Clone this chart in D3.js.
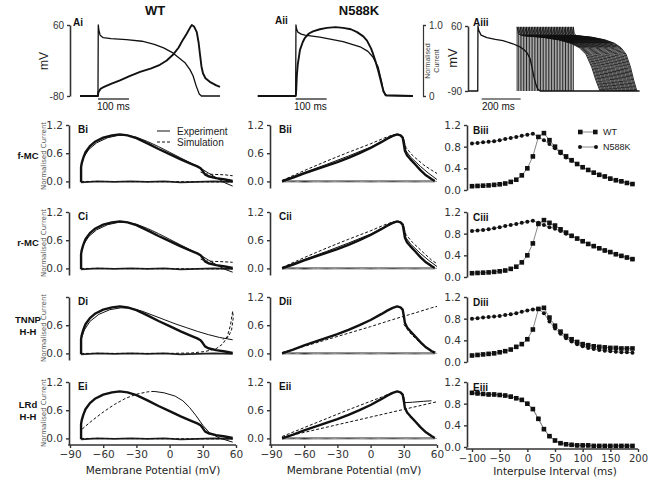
<!DOCTYPE html>
<html><head><meta charset="utf-8">
<script src="https://cdn.jsdelivr.net/npm/d3@7"></script>
<style>
body{margin:0;background:#fff}
svg text{font-family:"DejaVu Sans",sans-serif}
.ar{font-family:"Liberation Sans",Arial,sans-serif !important}
</style>
</head><body>
<svg id="c" width="652" height="480"></svg>
<script>
// ---------------- DATA ----------------
// Top row: Ai (WT) action potential (ms, mV) and normalised current (ms, I)
const aiAP = [[0,-80],[58,-80],[59,60],[61,50],[65,40],[75,35],[100,33],[150,31],[200,28],[240,22],[270,15],[300,5],[320,-5],[340,-15],[355,-28],[365,-40],[375,-60],[385,-76],[392,-80],[452,-80]];
const aiCur = [[0,0],[58,0],[59,0.05],[66,0.1],[74,0.12],[100,0.17],[129,0.22],[160,0.28],[194,0.34],[230,0.39],[258,0.44],[280,0.5],[300,0.58],[318,0.68],[332,0.79],[345,0.88],[355,0.96],[361,1.0],[368,0.98],[377,0.9],[383,0.75],[387,0.6],[392,0.42],[397,0.32],[405,0.25],[419,0.2],[440,0.15],[452,0.13]];
// Aii (N588K)
const aiiAP = [[-65,-80],[57,-80],[58,60],[60,52],[64,46],[75,42],[87,40],[135,36],[210,27],[265,17],[290,8],[306,-3],[323,-23],[335,-54],[340,-72],[350,-79],[435,-80]];
const aiiCur = [[-65,0],[57,0],[58,0.02],[59,0.1],[61,0.3],[64,0.45],[71,0.65],[80,0.76],[87,0.82],[100,0.88],[113,0.91],[135,0.94],[158,0.96],[185,0.97],[210,0.96],[235,0.94],[255,0.9],[275,0.84],[287,0.78],[300,0.67],[306,0.6],[315,0.48],[323,0.36],[330,0.24],[335,0.15],[340,0.07],[347,0.01],[435,0]];
// Aiii: conditioning AP, S2 stimulus times, S2 repolarisation times, S2 AP shape (fraction of APD, mV)
const aiiiAP1 = [[0,-90],[50,-90],[51,60],[55,50],[67,39],[97,33],[140,29],[179,26],[230,19],[267,12],[290,4],[303,-2],[318,-15],[328,-35],[337,-55],[344,-68],[352,-80],[359,-86],[370,-90],[880,-90]];
const s2Times = [252,260,268,276,284,292,300,308,316,324,332,340,348,356,364,372,380,388,396,404,412,420,428,436,444,452,460,468,476,484,492,500,508,516,524,532,540];
const s2Ends  = [677,682,688,693,698,703,709,714,719,724,730,735,740,745,751,756,761,766,772,777,782,787,793,798,803,808,814,819,824,829,835,840,845,850,856,861,866];
const s2Shape = [[0,58],[0.015,42],[0.05,38],[0.3,34],[0.5,28],[0.65,20],[0.75,10],[0.83,-5],[0.9,-35],[0.95,-65],[1.0,-90]];

// I-V loops (mV, normalised current)
const expWT = [[-80,-0.02],[-80,0.1],[-80,0.3],[-79.5,0.38],[-78,0.5],[-76,0.62],[-72,0.75],[-67,0.85],[-60,0.93],[-52,0.98],[-45,1.0],[-38,0.98],[-30,0.92],[-20,0.81],[-10,0.69],[0,0.58],[10,0.47],[20,0.37],[25,0.32],[28,0.28],[30,0.22],[32,0.15],[35,0.11],[42,0.07],[50,0.04],[57,0.01]];
const expWTbase = [[-80,-0.02],[-65,0.0],[-50,-0.01],[-35,0.0],[-20,-0.01],[-5,0.0],[10,-0.02],[25,-0.01],[40,0.0],[57,-0.01]];
const zeroLine = [[-80,0],[57,-0.01]];
const fmcSolid = [[-80,0],[-80,0.3],[-78,0.5],[-73,0.68],[-66,0.82],[-56,0.93],[-46,0.98],[-38,0.98],[-30,0.94],[-20,0.85],[-10,0.74],[0,0.62],[10,0.5],[20,0.38],[28,0.28],[35,0.18],[42,0.08],[50,-0.03],[57,-0.1]];
const fmcDash = [[28,0.2],[32,0.16],[40,0.15],[50,0.14],[57,0.12]];
const rmcSolid = [[-80,0],[-80,0.3],[-78,0.5],[-73,0.68],[-66,0.82],[-56,0.93],[-46,0.98],[-38,0.98],[-30,0.94],[-20,0.85],[-10,0.74],[0,0.62],[10,0.5],[20,0.38],[28,0.28],[35,0.18],[42,0.08],[50,-0.02],[57,-0.08]];
const rmcDash = [[28,0.2],[32,0.16],[40,0.15],[50,0.14],[57,0.13]];
const tnnpSolid = [[-80,0],[-80,0.3],[-77,0.5],[-72,0.68],[-64,0.83],[-54,0.93],[-44,0.97],[-35,0.96],[-25,0.9],[-15,0.81],[-5,0.72],[5,0.63],[15,0.55],[25,0.47],[35,0.4],[45,0.34],[57,0.29]];
const tnnpDash = [[-80,0],[-40,0.0],[0,0.0],[20,0.01],[32,0.04],[42,0.1],[48,0.2],[52,0.35],[55,0.6],[57,0.9],[57.5,0.75],[56,0.5],[53,0.35],[48,0.3]];
const lrdDash = [[-79,0.2],[-70,0.38],[-60,0.56],[-50,0.72],[-40,0.85],[-30,0.94],[-20,0.99],[-14,1.0]];
const lrdSolid = [[-14,1.0],[-5,0.97],[5,0.9],[12,0.8],[18,0.66],[24,0.48],[30,0.28],[36,0.12],[45,0.01],[57,-0.08]];

const expN = [[-80,0],[-70,0.08],[-60,0.17],[-50,0.25],[-40,0.33],[-30,0.41],[-20,0.5],[-10,0.6],[0,0.71],[10,0.84],[15,0.91],[20,0.97],[24,1.0],[27,0.98],[29,0.93],[30,0.8],[31,0.65],[33,0.55],[36,0.47],[40,0.37],[45,0.24],[50,0.13],[55,0.05],[58,0.01]];
const expNbase = [[-80,0],[-40,0.0],[0,0.0],[30,0.0],[58,0.0]];
const grayN = [[-80,-0.01],[-70,0.01],[-60,-0.02],[-50,0.0],[-40,-0.01],[-30,0.0],[-20,0.01],[-10,0.0],[0,-0.01],[10,0.0],[20,0.01],[30,0.0],[40,-0.01],[50,0.0],[60,0.0]];
const fmcNSolid = [[-80,0.02],[-60,0.19],[-40,0.36],[-20,0.54],[0,0.73],[12,0.87],[20,0.96],[25,1.0],[28,0.98],[30,0.9],[32,0.65],[36,0.52],[45,0.32],[52,0.18],[60,0.04]];
const fmcNDash = [[-80,0.02],[-60,0.23],[-40,0.43],[-20,0.62],[0,0.8],[12,0.92],[20,0.99],[25,1.0],[29,0.95],[32,0.72],[38,0.55],[48,0.35],[55,0.24],[60,0.17]];
const rmcNSolid = [[-80,0.02],[-60,0.19],[-40,0.36],[-20,0.54],[0,0.73],[12,0.87],[20,0.96],[25,1.0],[28,0.98],[30,0.9],[32,0.65],[36,0.52],[45,0.32],[52,0.18],[60,0.04]];
const rmcNDash = [[-80,0.02],[-60,0.23],[-40,0.43],[-20,0.62],[0,0.8],[12,0.92],[20,0.99],[25,1.0],[29,0.95],[32,0.72],[38,0.55],[48,0.33],[55,0.18],[60,0.1]];
const tnnpNDash = [[-80,0.02],[-60,0.15],[-40,0.29],[-20,0.43],[0,0.57],[20,0.72],[40,0.86],[55,0.97],[60,1.0]];
const tnnpNDash2 = [[30,0.62],[35,0.45],[40,0.33],[45,0.22],[50,0.13],[55,0.06],[60,0.02]];
const lrdNDashUp = [[-80,0.04],[-60,0.23],[-40,0.42],[-20,0.61],[0,0.79],[10,0.88],[18,0.96],[24,1.0]];
const lrdNSolid = [[24,1.0],[28,0.97],[30,0.88],[31,0.76],[38,0.77],[48,0.79],[55,0.8]];
const lrdNDashLow = [[-80,0.02],[60,0.78]];

// Column iii: interpulse interval (ms) vs normalised peak current
const ipi = [-100,-90,-80,-70,-60,-50,-40,-30,-20,-10,0,10,20,30,40,50,60,70,80,90,100,110,120,130,140,150,160,170,180,190];
const biiiWT = [0.07,0.075,0.08,0.085,0.095,0.105,0.12,0.15,0.19,0.27,0.4,0.62,0.98,1.05,0.92,0.8,0.7,0.62,0.55,0.48,0.42,0.37,0.32,0.28,0.25,0.21,0.18,0.16,0.13,0.11];
const biiiN  = [0.86,0.87,0.88,0.89,0.9,0.92,0.94,0.96,0.98,1.0,1.02,1.04,0.98,0.92,0.85,0.77,0.68,0.6,0.54,0.48,0.42,0.37,0.32,0.28,0.25,0.21,0.18,0.16,0.13,0.11];
const ciiiWT = [0.07,0.075,0.08,0.085,0.095,0.105,0.12,0.15,0.19,0.27,0.4,0.62,0.98,1.05,1.0,0.95,0.88,0.82,0.76,0.71,0.66,0.61,0.57,0.53,0.49,0.46,0.42,0.39,0.36,0.33];
const ciiiN  = [0.85,0.86,0.87,0.88,0.9,0.92,0.94,0.96,0.98,1.0,1.02,1.04,1.0,0.96,0.92,0.89,0.85,0.8,0.76,0.71,0.66,0.61,0.57,0.53,0.49,0.46,0.42,0.39,0.36,0.33];
const diiiWT = [0.12,0.13,0.14,0.15,0.16,0.18,0.2,0.23,0.28,0.33,0.42,0.6,0.98,1.0,0.82,0.67,0.56,0.48,0.42,0.37,0.33,0.31,0.29,0.28,0.27,0.26,0.26,0.25,0.25,0.25];
const diiiN  = [0.8,0.81,0.82,0.83,0.84,0.85,0.87,0.88,0.9,0.93,0.95,0.97,0.98,0.9,0.75,0.62,0.52,0.44,0.38,0.33,0.29,0.26,0.24,0.22,0.21,0.2,0.19,0.18,0.18,0.17];
const eiiiWT = [1.0,0.99,0.98,0.97,0.97,0.96,0.95,0.93,0.9,0.87,0.8,0.7,0.52,0.33,0.2,0.12,0.07,0.05,0.04,0.03,0.03,0.03,0.02,0.02,0.02,0.02,0.02,0.02,0.02,0.02];
const eiiiN  = [1.0,0.99,0.98,0.97,0.97,0.96,0.95,0.93,0.9,0.87,0.8,0.7,0.52,0.33,0.2,0.12,0.07,0.05,0.04,0.03,0.03,0.03,0.02,0.02,0.02,0.02,0.02,0.02,0.02,0.02];

const ivTicks = [0, 0.6, 1.2];
const vTicks = [-90,-60,-30,0,30,60];
const ipiTicks = [-100,-50,0,50,100,150,200];
const iiiTicks = [0,0.4,0.8,1.2];
const rowNames = [["f-MC"],["r-MC"],["TNNP","H-H"],["LRd","H-H"]];

// ---------------- DRAW ----------------
const svg = d3.select("#c");
const INK = "#111", AX = "#333";
function line(g, data, sx, sy, o){
  o = o||{};
  g.append("path").datum(data)
   .attr("d", d3.line().x(d=>sx(d[0])).y(d=>sy(d[1])))
   .attr("fill","none").attr("stroke",o.c||INK).attr("stroke-width",o.w||1)
   .attr("stroke-dasharray",o.dash?"3,2":null)
   .attr("stroke-linejoin","round").attr("stroke-linecap","butt");
}
function styleAxis(g, fs){
  g.select(".domain").attr("stroke",AX).attr("stroke-width",1.6);
  g.selectAll(".tick line").attr("stroke",AX).attr("stroke-width",1.4);
  g.selectAll(".tick text").attr("fill","#333").style("font-size",(fs||10)+"px");
}
function txt(x,y,s,o){
  o=o||{};
  const t=svg.append("text").attr("x",x).attr("y",y).text(s)
   .attr("text-anchor",o.a||"start").attr("fill",o.c||"#111")
   .style("font-size",(o.fs||10)+"px").style("font-weight",o.b?"bold":"normal");
  if(o.ar) t.attr("class","ar");
  if(o.rot) t.attr("transform",`rotate(-90,${x},${y})`);
  return t;
}

// ---- Top row ----
txt(155,15,"WT",{a:"middle",b:true,fs:13,ar:true});
txt(359,15,"N588K",{a:"middle",b:true,fs:13,ar:true});

// Ai
{
  const x = d3.scaleLinear().domain([0,452]).range([80,220]);
  const y = d3.scaleLinear().domain([-80,60]).range([96,25]);
  const yc = d3.scaleLinear().domain([0,1]).range([96,25]);
  const g = svg.append("g");
  line(g, aiAP, x, y, {w:1.3});
  line(g, aiCur, x, yc, {w:1.9});
  const ax = svg.append("g").attr("transform","translate(70,0)")
    .call(d3.axisLeft(y).tickValues([-80,60]).tickFormat(d=>d===-80?"-80":"60").tickSize(3).tickSizeOuter(0));
  styleAxis(ax,10); ax.selectAll("text").attr("class","ar");
  txt(48,61,"mV",{a:"middle",rot:true,fs:12,ar:true,c:"#222"});
  txt(73,26,"Ai",{b:true,fs:10,ar:true});
  svg.append("line").attr("x1",x(58)).attr("x2",x(158)).attr("y1",99).attr("y2",99).attr("stroke",INK).attr("stroke-width",1.2);
  txt(97,110,"100 ms",{fs:10,ar:true});
}
// Aii
{
  const x = d3.scaleLinear().domain([-65,435]).range([257.8,412.9]);
  const y = d3.scaleLinear().domain([-80,60]).range([96,25]);
  const yc = d3.scaleLinear().domain([0,1]).range([96,25]);
  const g = svg.append("g");
  line(g, aiiAP, x, y, {w:1.3});
  line(g, aiiCur, x, yc, {w:1.9});
  txt(275,24,"Aii",{b:true,fs:10,ar:true});
  svg.append("line").attr("x1",x(57)).attr("x2",x(157)).attr("y1",99).attr("y2",99).attr("stroke",INK).attr("stroke-width",1.2);
  txt(294,110,"100 ms",{fs:10,ar:true});
  // normalised current scale bar
  const sb = svg.append("g").attr("transform","translate(423,0)")
    .call(d3.axisRight(yc).tickValues([0,1]).tickFormat(d=>d?"1.0":"0").tickSize(3).tickSizeOuter(0));
  styleAxis(sb,10); sb.select(".domain").attr("stroke-width",1.2);
  sb.selectAll("text").attr("class","ar");
  txt(430,61,"Normalised",{a:"middle",rot:true,fs:7,ar:true,c:"#444"});
  txt(439,61,"Current",{a:"middle",rot:true,fs:7,ar:true,c:"#444"});
}
// Aiii
{
  const x = d3.scaleLinear().domain([0,880]).range([468,639.6]);
  const y = d3.scaleLinear().domain([-90,60]).range([91,26]);
  const g = svg.append("g");
  s2Times.forEach((ts,i)=>{
    const apd = s2Ends[i]-ts;
    const pts = [[ts,-90]].concat(s2Shape.map(d=>[ts+d[0]*apd, d[1]]));
    line(g, pts, x, y, {w:0.9});
  });
  line(g, aiiiAP1, x, y, {w:1.3});
  const ax = svg.append("g").attr("transform","translate(468,0)")
    .call(d3.axisLeft(y).tickValues([-90,60]).tickFormat(d=>d===-90?"-90":"60").tickSize(3).tickSizeOuter(0));
  styleAxis(ax,10); ax.selectAll("text").attr("class","ar");
  txt(457,58,"mV",{a:"middle",rot:true,fs:13,ar:true,c:"#222"});
  txt(473,26,"Aiii",{b:true,fs:10,ar:true});
  svg.append("line").attr("x1",x(70)).attr("x2",x(270)).attr("y1",99).attr("y2",99).attr("stroke",INK).attr("stroke-width",1.2);
  txt(482,110,"200 ms",{fs:10,ar:true});
}

// ---- I-V panels ----
const colX = [[70,236],[271,437]];
const rowT = [125,212,297,382];
const ivPanels = [
  {c:0,r:0,lab:"Bi",exp:expWT,base:expWTbase,lines:[{d:zeroLine,dash:1},{d:fmcSolid},{d:fmcDash,dash:1}]},
  {c:0,r:1,lab:"Ci",exp:expWT,base:expWTbase,lines:[{d:zeroLine,dash:1},{d:rmcSolid},{d:rmcDash,dash:1}]},
  {c:0,r:2,lab:"Di",exp:expWT,base:expWTbase,lines:[{d:tnnpDash,dash:1},{d:tnnpSolid}]},
  {c:0,r:3,lab:"Ei",exp:expWT,base:expWTbase,lines:[{d:zeroLine,dash:1},{d:lrdDash,dash:1},{d:lrdSolid}]},
  {c:1,r:0,lab:"Bii",exp:expN,base:expNbase,lines:[{d:grayN,c:"#999"},{d:fmcNSolid},{d:fmcNDash,dash:1}]},
  {c:1,r:1,lab:"Cii",exp:expN,base:expNbase,lines:[{d:grayN,c:"#999"},{d:rmcNSolid},{d:rmcNDash,dash:1}]},
  {c:1,r:2,lab:"Dii",exp:expN,base:expNbase,lines:[{d:grayN,c:"#999"},{d:tnnpNDash,dash:1},{d:tnnpNDash2,dash:1}]},
  {c:1,r:3,lab:"Eii",exp:expN,base:expNbase,lines:[{d:grayN,c:"#999"},{d:lrdNDashUp,dash:1},{d:lrdNSolid},{d:lrdNDashLow,dash:1}]}
];
ivPanels.forEach(p=>{
  const x = d3.scaleLinear().domain([-90,60]).range(colX[p.c]);
  const T = rowT[p.r];
  const y = d3.scaleLinear().domain([-0.14,1.2]).range([T+63,T]);
  const g = svg.append("g");
  line(g, p.base, x, y, {w:1.6, c:"#222"});
  p.lines.forEach(l=>line(g, l.d, x, y, {w:1, dash:l.dash, c:l.c}));
  line(g, p.exp, x, y, {w:2.4});
  const ax = svg.append("g").attr("transform",`translate(${colX[p.c][0]-1},0)`)
    .call(d3.axisLeft(y).tickValues(ivTicks).tickFormat(d3.format(".1f")).tickSize(3).tickSizeOuter(0));
  styleAxis(ax,10.5);
  if(p.lab==="Di") ax.selectAll(".tick text").filter(d=>d===1.2).remove();
  txt(colX[p.c][0]+8, T+8, p.lab, {b:true,fs:10,ar:true});
  if(p.r===3){
    const xa = svg.append("g").attr("transform",`translate(0,${T+63})`)
      .call(d3.axisBottom(x).tickValues(vTicks).tickSize(3).tickSizeOuter(0));
    styleAxis(xa,10.5);
    xa.select(".domain").attr("d",`M${colX[p.c][0]-1.8},0H${colX[p.c][1]}`);
    txt((colX[p.c][0]+colX[p.c][1])/2, 474, "Membrane Potential (mV)", {a:"middle",fs:10.5,c:"#222"});
  }
  if(p.c===0){
    txt(46, T+31, "Normalised Current", {a:"middle",rot:true,fs:7,c:"#555"});
    const nm = rowNames[p.r];
    nm.forEach((s,i)=>txt(28, T+31+(i-(nm.length-1)/2)*12+(nm.length>1?1:3), s, {a:"middle",b:true,fs:9.5,ar:true}));
  }
});
// legend in Bi
{
  svg.append("line").attr("x1",157).attr("x2",170).attr("y1",131).attr("y2",131).attr("stroke",INK).attr("stroke-width",1);
  svg.append("line").attr("x1",157).attr("x2",172).attr("y1",142).attr("y2",142).attr("stroke",INK).attr("stroke-width",1).attr("stroke-dasharray","3,2");
  txt(177,135,"Experiment",{fs:10,ar:true,c:"#222"});
  txt(177,146,"Simulation",{fs:10,ar:true,c:"#222"});
}

// ---- Column iii ----
const iiiPanels = [
  {r:0,lab:"Biii",wt:biiiWT,n:biiiN},
  {r:1,lab:"Ciii",wt:ciiiWT,n:ciiiN},
  {r:2,lab:"Diii",wt:diiiWT,n:diiiN},
  {r:3,lab:"Eiii",wt:eiiiWT,n:eiiiN}
];
iiiPanels.forEach(p=>{
  const x = d3.scaleLinear().domain([-100,200]).range([472,638]);
  const T = rowT[p.r];
  const y = d3.scaleLinear().domain([0,1.2]).range([T+65,T]);
  const g = svg.append("g");
  const dn = ipi.map((v,i)=>[v,p.n[i]]);
  const dw = ipi.map((v,i)=>[v,p.wt[i]]);
  line(g, dn, x, y, {w:1, c:"#888"});
  line(g, dw, x, y, {w:1, c:"#888"});
  g.selectAll(null).data(dw).enter().append("rect")
    .attr("x",d=>x(d[0])-2.3).attr("y",d=>y(d[1])-2.3).attr("width",4.6).attr("height",4.6).attr("fill",INK);
  g.selectAll(null).data(dn).enter().append("circle")
    .attr("cx",d=>x(d[0])).attr("cy",d=>y(d[1])).attr("r",2).attr("fill",INK);
  const ax = svg.append("g").attr("transform","translate(467,0)")
    .call(d3.axisLeft(y).tickValues(iiiTicks).tickFormat(d3.format(".1f")).tickSize(3).tickSizeOuter(0));
  styleAxis(ax,10.5);
  txt(473, T+9, p.lab, {b:true,fs:10,ar:true});
  if(p.r===3){
    const xa = svg.append("g").attr("transform",`translate(0,${T+67})`)
      .call(d3.axisBottom(x).tickValues(ipiTicks).tickSize(3).tickSizeOuter(0));
    styleAxis(xa,10);
    xa.select(".domain").attr("d","M466,0H638");
    txt(555, 475, "Interpulse Interval (ms)", {a:"middle",fs:10.5,c:"#222"});
  }
});
// legend in Biii
{
  const g = svg.append("g");
  g.append("line").attr("x1",580).attr("x2",596).attr("y1",132).attr("y2",132).attr("stroke","#888");
  g.append("rect").attr("x",578).attr("y",129.7).attr("width",4.6).attr("height",4.6).attr("fill",INK);
  g.append("rect").attr("x",593).attr("y",129.7).attr("width",4.6).attr("height",4.6).attr("fill",INK);
  g.append("line").attr("x1",580).attr("x2",596).attr("y1",147).attr("y2",147).attr("stroke","#888");
  g.append("circle").attr("cx",580).attr("cy",147).attr("r",2).attr("fill",INK);
  g.append("circle").attr("cx",596).attr("cy",147).attr("r",2).attr("fill",INK);
  txt(603,135,"WT",{fs:9,ar:true,c:"#222"});
  txt(603,150,"N588K",{fs:9,ar:true,c:"#222"});
}
</script>
</body></html>
